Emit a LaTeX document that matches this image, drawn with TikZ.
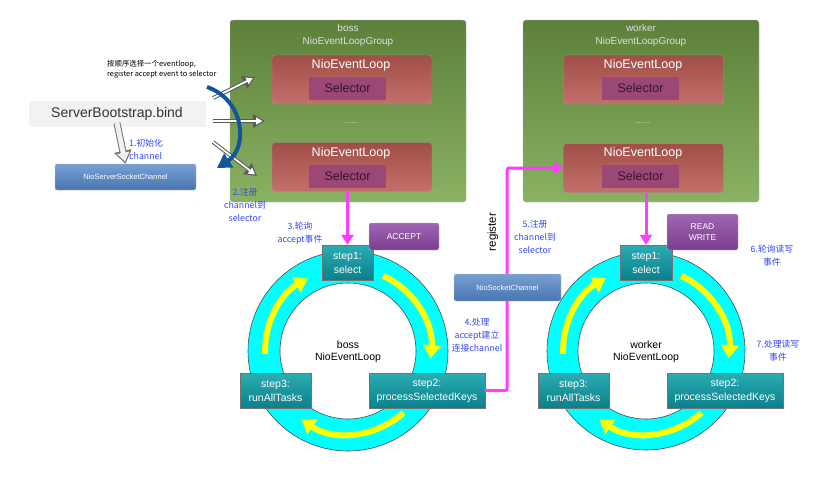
\documentclass[tikz,border=0pt]{standalone}
\usepackage{fontspec}
\setmainfont{Liberation Sans}
\newfontfamily\cjk{Noto Sans CJK SC}
\usetikzlibrary{arrows.meta}

\definecolor{grouptop}{RGB}{92,128,58}
\definecolor{groupbot}{RGB}{138,178,98}
\definecolor{looptop}{RGB}{160,78,72}
\definecolor{loopbot}{RGB}{196,112,106}
\definecolor{selfill}{RGB}{155,72,118}
\definecolor{seltext}{RGB}{50,22,40}
\definecolor{steptop}{RGB}{44,172,178}
\definecolor{stepbot}{RGB}{10,128,138}
\definecolor{chantop}{RGB}{120,160,210}
\definecolor{chanbot}{RGB}{72,116,176}
\definecolor{eventtop}{RGB}{160,100,180}
\definecolor{eventbot}{RGB}{122,62,142}
\definecolor{notecolor}{RGB}{50,70,255}
\definecolor{pinkline}{RGB}{255,60,255}
\definecolor{curveblue}{RGB}{20,85,155}
\definecolor{ringcyan}{RGB}{0,255,255}
\definecolor{ringyellow}{RGB}{255,255,0}

\tikzstyle{every node}=[inner sep=2pt, align=center]
\tikzstyle{group}=[rounded corners=3pt, draw=black!35, top color=grouptop, bottom color=groupbot, minimum width=236pt, minimum height=182pt]
\tikzstyle{grouptitle}=[text=white!88!black, font=\fontsize{10}{13}\selectfont]
\tikzstyle{loopbox}=[rounded corners=3pt, draw=black!40, top color=looptop, bottom color=loopbot, minimum width=160pt, minimum height=49pt]
\tikzstyle{looptitle}=[text=white, font=\fontsize{12.5}{14}\selectfont]
\tikzstyle{selector}=[fill=selfill, text=seltext, minimum width=77pt, minimum height=23pt, font=\fontsize{12.5}{14}\selectfont]
\tikzstyle{dots}=[text=white!85!black, font=\fontsize{9}{10}\selectfont]
\tikzstyle{stepbox}=[draw=black!55, top color=steptop, bottom color=stepbot, text=white, minimum height=35pt, font=\fontsize{10.5}{14}\selectfont]
\tikzstyle{chanbox}=[rounded corners=2pt, draw=black!25, top color=chantop, bottom color=chanbot, text=white, minimum height=26pt, font=\fontsize{7.5}{9}\selectfont]
\tikzstyle{eventbox}=[rounded corners=2pt, draw=black!25, top color=eventtop, bottom color=eventbot, text=white, font=\fontsize{8.5}{11}\selectfont]
\tikzstyle{note}=[text=notecolor, font=\cjk\fontsize{8.8}{13}\selectfont]
\tikzstyle{ringtext}=[font=\fontsize{10.5}{12}\selectfont]
\tikzstyle{ring}=[fill=ringcyan, draw=black!70, even odd rule, line width=0.6pt]
\tikzstyle{yellowarc}=[draw=ringyellow, line width=6pt, -{Triangle[length=13pt,width=17pt]}]
\tikzstyle{hollow}=[draw=black!65, line width=3.8pt, -{Triangle[length=12pt,width=13pt]}, postaction={draw=white, line width=1.8pt, shorten >=2.4pt, -{Triangle[length=6.5pt,width=7pt]}}]
\tikzstyle{bigarrow}=[draw=black!55, line width=7pt, -{Triangle[length=13pt,width=17pt]}, postaction={draw=white!94!black, line width=5pt, shorten >=2.2pt, -{Triangle[length=9pt,width=12pt]}}]
\tikzstyle{bluecurve}=[draw=curveblue, line width=4pt, -{Triangle[length=14pt,width=16pt]}]
\tikzstyle{pinkarrow}=[draw=pinkline, line width=3pt, -{Triangle[length=10pt,width=12pt]}]

\begin{document}
\begin{tikzpicture}[x=1pt,y=-1pt]
    \useasboundingbox (0,0) rectangle (822,483);

    \node [group] (bossgroup) at (348,111) {};
    \node [grouptitle] (bosstitle) at (348,35.5) {boss\\NioEventLoopGroup};
    \node [loopbox] (bossloopa) at (352,79.5) {};
    \node [looptitle] (bossloopatitle) at (351,65) {NioEventLoop};
    \node [selector] (bossselectora) at (347.5,88.5) {Selector};
    \node [dots] (bossdots) at (351,123) {......};
    \node [loopbox] (bossloopb) at (352,167) {};
    \node [looptitle] (bossloopbtitle) at (351,153) {NioEventLoop};
    \node [selector] (bossselectorb) at (347.5,176) {Selector};

    \node [group] (workergroup) at (641,111) {};
    \node [grouptitle] (workertitle) at (641,35.5) {worker\\NioEventLoopGroup};
    \node [loopbox] (workerloopa) at (643.5,79.5) {};
    \node [looptitle] (workerloopatitle) at (643,65) {NioEventLoop};
    \node [selector] (workerselectora) at (640.5,88.5) {Selector};
    \node [dots] (workerdots) at (643,123) {......};
    \node [loopbox] (workerloopb) at (643.5,168) {};
    \node [looptitle] (workerloopbtitle) at (643,153) {NioEventLoop};
    \node [selector] (workerselectorb) at (640.5,176) {Selector};

    \node [fill=black!5, minimum width=177pt, minimum height=26pt, font=\fontsize{14}{16}\selectfont, text=black!80] (bind) at (117,114) {ServerBootstrap.bind};
    \node [chanbox, minimum width=141pt] (serverchannel) at (125.5,177) {NioServerSocketChannel};
    \draw [bigarrow] ([yshift=4pt]bind.south) -- (serverchannel.north);
    \node [note, anchor=west, align=left] (initnote) at (127,149.5) {1.初始化\\channel};
    \node [font=\cjk\fontsize{7.4}{9.5}\selectfont, anchor=west, align=left] (choosenote) at (105,69.5) {按顺序选择一个eventloop,\\register accept event to selector};

    \coordinate (hollowstarta) at (213,98);
    \coordinate (hollowenda) at (255,77);
    \coordinate (hollowstartb) at (213,121);
    \coordinate (hollowendb) at (265,121);
    \coordinate (hollowstartc) at (213,142);
    \coordinate (hollowendc) at (257,176);
    \draw [hollow] (hollowstarta) -- (hollowenda);
    \draw [hollow] (hollowstartb) -- (hollowendb);
    \draw [hollow] (hollowstartc) -- (hollowendc);
    \coordinate (curvestart) at (207,87);
    \coordinate (curveend) at (217,168);
    \draw [bluecurve] (curvestart) .. controls (245,100) and (248,148) .. (curveend);
    \node [note] (registernote) at (245,204.5) {2.注册\\channel到\\selector};

    \coordinate (bossring) at (348,351);
    \draw [ring] (bossring) circle [radius=100] (bossring) circle [radius=68];
    \draw [yellowarc] ([shift={(-65:83)}]bossring) arc [start angle=-65, end angle=5, radius=83];
    \draw [yellowarc] ([shift={(48:83)}]bossring) arc [start angle=48, end angle=124, radius=83];
    \draw [yellowarc] ([shift={(-182:83)}]bossring) arc [start angle=-182, end angle=-119, radius=83];
    \node [ringtext] (bossringtext) at (348,352) {boss\\NioEventLoop};
    \node [stepbox, minimum width=51pt] (bossstep1) at (347.5,262.5) {step1:\\select};
    \node [stepbox, minimum width=116pt] (bossstep2) at (427,390.5) {step2:\\processSelectedKeys};
    \node [stepbox, minimum width=71pt] (bossstep3) at (275.5,391) {step3:\\runAllTasks};
    \node [eventbox, minimum width=70pt, minimum height=27pt] (accept) at (404,236.5) {ACCEPT};
    \draw [pinkarrow] (bossstep1.north |- bossloopb.south) -- (bossstep1.north);
    \node [note] (pollnote) at (300,233) {3.轮询\\accept事件};

    \coordinate (workerring) at (646,351);
    \draw [ring] (workerring) circle [radius=99] (workerring) circle [radius=68];
    \draw [yellowarc] ([shift={(-65:83)}]workerring) arc [start angle=-65, end angle=5, radius=83];
    \draw [yellowarc] ([shift={(48:83)}]workerring) arc [start angle=48, end angle=124, radius=83];
    \draw [yellowarc] ([shift={(-182:83)}]workerring) arc [start angle=-182, end angle=-119, radius=83];
    \node [ringtext] (workerringtext) at (646,352) {worker\\NioEventLoop};
    \node [stepbox, minimum width=52pt] (workerstep1) at (646,262.5) {step1:\\select};
    \node [stepbox, minimum width=116pt] (workerstep2) at (725,390.5) {step2:\\processSelectedKeys};
    \node [stepbox, minimum width=71pt] (workerstep3) at (573.5,390.5) {step3:\\runAllTasks};
    \node [eventbox, minimum width=71pt, minimum height=36pt] (readwrite) at (702.5,232) {READ\\WRITE};
    \draw [pinkarrow] (workerstep1.north |- workerloopb.south) -- (workerstep1.north);
    \node [note] (rwpollnote) at (772,255.5) {6.轮询读写\\事件};
    \node [note] (rwhandlenote) at (778,350.5) {7.处理读写\\事件};

    \draw [pinkarrow, rounded corners=2pt] (bossstep2.east) -- ++(22,0) |- (workerloopb.west);
    \node [chanbox, minimum width=107pt, minimum height=27pt] (socketchannel) at (507.5,287.5) {NioSocketChannel};
    \node [rotate=90, font=\fontsize{11.5}{13}\selectfont] (registerlabel) at (493,232) {register};
    \node [note] (acceptnote) at (477,335) {4.处理\\accept建立\\连接channel};
    \node [note] (selectnote) at (535,236.5) {5.注册\\channel到\\selector};
\end{tikzpicture}
\end{document}
